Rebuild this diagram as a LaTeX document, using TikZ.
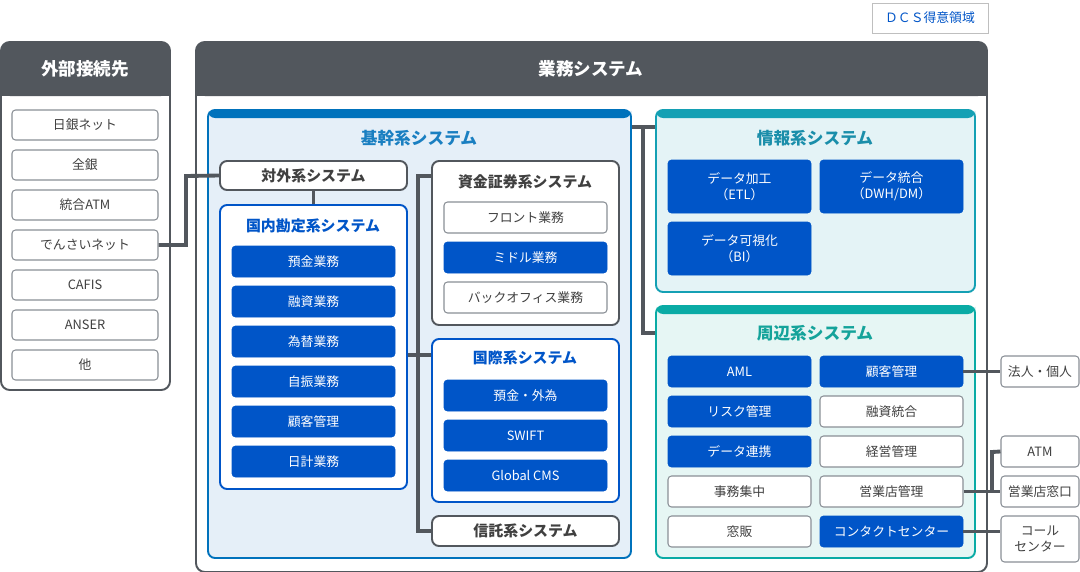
\documentclass[tikz,border=0pt]{standalone}
\usepackage{fontspec}
\setmainfont{Noto Sans CJK JP}
\usetikzlibrary{positioning}
\definecolor{hdgray}{HTML}{52575D}
\definecolor{bdgray}{HTML}{8A8F96}
\definecolor{dblue}{HTML}{0055C8}
\definecolor{kblue}{HTML}{0072BC}
\definecolor{kfill}{HTML}{E5EFF8}
\definecolor{jteal}{HTML}{14A0B4}
\definecolor{jfill}{HTML}{E4F3F6}
\definecolor{sgreen}{HTML}{0AABA5}
\definecolor{sfill}{HTML}{E6F6F4}
\definecolor{ktext}{HTML}{1A7FC1}
\definecolor{jtext}{HTML}{1A8EAA}
\definecolor{stext}{HTML}{14A39A}
\tikzset{
  px/.style={x=0.02cm,y=-0.02cm},
  bluebox/.style={fill=dblue,draw=dblue,rounded corners=2pt,text=white,font=\fontsize{7.3}{9}\selectfont},
  whitebox/.style={fill=white,draw=bdgray,line width=0.6pt,rounded corners=2pt,text=black!75,font=\fontsize{7.3}{9}\selectfont},
  grpbox/.style={fill=white,draw=hdgray,line width=1.1pt,rounded corners=4pt,text=black!75,font=\bfseries\fontsize{8.5}{10}\selectfont},
  bgrpbox/.style={fill=white,draw=dblue,line width=1.1pt,rounded corners=4pt},
  link/.style={draw=hdgray,line width=2.2pt},
}
% box from corner (x1,y1) to (x2,y2) in pixels
\newcommand{\bx}[7]{\node[#6,inner sep=0pt,minimum width={((#4)-(#2))*0.02cm},minimum height={((#5)-(#3))*0.02cm},align=center] (#1) at ({((#2)+(#4))/2},{((#3)+(#5))/2}) {#7};}
\begin{document}
\begin{tikzpicture}[px]
\useasboundingbox (0,0) rectangle (1080,572);
% DCS tag
\bx{dcs}{872}{3}{988}{33}{fill=white,draw=black!25,line width=0.5pt,text=dblue,font=\fontsize{7.3}{9}\selectfont}{ＤＣＳ得意領域}
% external
\bx{ext}{1}{42}{170}{390}{fill=white,draw=hdgray,line width=1.1pt,rounded corners=5pt}{}
\fill[hdgray,rounded corners=5pt] (1,42) rectangle (170,96);
\fill[hdgray] (1,80) rectangle (170,96);
\node[text=white,font=\bfseries\fontsize{10}{12}\selectfont] (exttitle) at (85,69) {外部接続先};
\foreach \nm/\t [count=\i from 0] in {nichigin/日銀ネット,zengin/全銀,atmx/統合ATM,densai/でんさいネット,cafis/CAFIS,anser/ANSER,other/他}
  {\bx{\nm}{12}{110+40*\i}{158}{140+40*\i}{whitebox}{\t}}
% business system
\bx{biz}{196}{42}{987}{572}{fill=white,draw=hdgray,line width=1.1pt,rounded corners=5pt}{}
\fill[hdgray,rounded corners=5pt] (196,42) rectangle (987,96);
\fill[hdgray] (196,80) rectangle (987,96);
\node[text=white,font=\bfseries\fontsize{10}{12}\selectfont] (biztitle) at (591,69) {業務システム};
% kikan
\bx{kikan}{208}{110}{631}{558}{fill=kfill,draw=kblue,line width=1.1pt,rounded corners=4pt}{}
\fill[kblue,rounded corners=4pt] (208,110) rectangle (631,118);
\node[text=ktext,font=\bfseries\fontsize{9.5}{11}\selectfont] (kikantitle) at (419,138) {基幹系システム};
\bx{taigai}{220}{161}{407}{190}{grpbox}{対外系システム}
\bx{kokunai}{220}{205}{407}{489}{bgrpbox}{}
\node[text=dblue,font=\bfseries\fontsize{8.5}{10}\selectfont] (kokunaititle) at (313,226) {国内勘定系システム};
\foreach \nm/\t [count=\i from 0] in {yokin/預金業務,yushi/融資業務,kawase/為替業務,jifuri/自振業務,kokyaku/顧客管理,nikkei/日計業務}
  {\bx{\nm}{232}{246+40*\i}{395}{277+40*\i}{bluebox}{\t}}
\bx{shikin}{432}{161}{619}{325}{grpbox}{}
\node[text=black!75,font=\bfseries\fontsize{8.5}{10}\selectfont] (shikintitle) at (525,182) {資金証券系システム};
\bx{front}{444}{202}{607}{233}{whitebox}{フロント業務}
\bx{middle}{444}{242}{607}{273}{bluebox}{ミドル業務}
\bx{back}{444}{282}{607}{313}{whitebox}{バックオフィス業務}
\bx{kokusai}{432}{339}{619}{502}{bgrpbox}{}
\node[text=dblue,font=\bfseries\fontsize{8.5}{10}\selectfont] (kokusaititle) at (525,358) {国際系システム};
\bx{gaitame}{444}{380}{607}{411}{bluebox}{預金・外為}
\bx{swift}{444}{420}{607}{451}{bluebox}{SWIFT}
\bx{gcms}{444}{460}{607}{491}{bluebox}{Global CMS}
\bx{shintaku}{432}{516}{619}{546}{grpbox}{信託系システム}
% joho
\bx{joho}{656}{110}{975}{292}{fill=jfill,draw=jteal,line width=1.1pt,rounded corners=4pt}{}
\fill[jteal,rounded corners=4pt] (656,110) rectangle (975,118);
\node[text=jtext,font=\bfseries\fontsize{9.5}{11}\selectfont] (johotitle) at (815,138) {情報系システム};
\bx{etl}{668}{160}{811}{213}{bluebox}{データ加工\\（ETL）}
\bx{dwh}{820}{160}{963}{213}{bluebox}{データ統合\\（DWH/DM）}
\bx{bi}{668}{222}{811}{275}{bluebox}{データ可視化\\（BI）}
% shuhen
\bx{shuhen}{656}{306}{975}{558}{fill=sfill,draw=sgreen,line width=1.1pt,rounded corners=4pt}{}
\fill[sgreen,rounded corners=4pt] (656,306) rectangle (975,314);
\node[text=stext,font=\bfseries\fontsize{9.5}{11}\selectfont] (shuhentitle) at (815,333) {周辺系システム};
\bx{aml}{668}{356}{811}{387}{bluebox}{AML}
\bx{risk}{668}{396}{811}{427}{bluebox}{リスク管理}
\bx{renkei}{668}{436}{811}{467}{bluebox}{データ連携}
\bx{jimu}{668}{476}{811}{507}{whitebox}{事務集中}
\bx{madohan}{668}{516}{811}{547}{whitebox}{窓販}
\bx{kokyaku2}{820}{356}{963}{387}{bluebox}{顧客管理}
\bx{yushitogo}{820}{396}{963}{427}{whitebox}{融資統合}
\bx{keiei}{820}{436}{963}{467}{whitebox}{経営管理}
\bx{eigyo}{820}{476}{963}{507}{whitebox}{営業店管理}
\bx{contact}{820}{516}{963}{547}{bluebox}{コンタクトセンター}
% right externals
\bx{hojin}{1001}{356}{1079}{387}{whitebox}{法人・個人}
\bx{atm}{1001}{436}{1079}{467}{whitebox}{ATM}
\bx{madoguchi}{1001}{476}{1079}{507}{whitebox}{営業店窓口}
\bx{call}{1001}{516}{1079}{562}{whitebox}{コール\\センター}
% connectors
\draw[link] (densai.east) -- (186,245) -- (186,176) -- (taigai.west);
\draw[link] (taigai.south) -- (kokunai.north);
\draw[link] (shikin.west |- 0,176) -- (418,176) -- (418,531) -- (shintaku.west);
\draw[link] (kokunai.east |- 0,355) -- (kokusai.west |- 0,355);
\draw[link] (kikan.east |- 0,127) -- (joho.west |- 0,127);
\draw[link] (643,127) -- (643,333) -- (shuhen.west |- 0,333);
\draw[link] (kokyaku2.east) -- (hojin.west);
\draw[link] (eigyo.east) -- (madoguchi.west);
\draw[link] (992,492) -- (992,452) -- (atm.west);
\draw[link] (contact.east) -- (call.west |- contact.east);
\end{tikzpicture}
\end{document}
